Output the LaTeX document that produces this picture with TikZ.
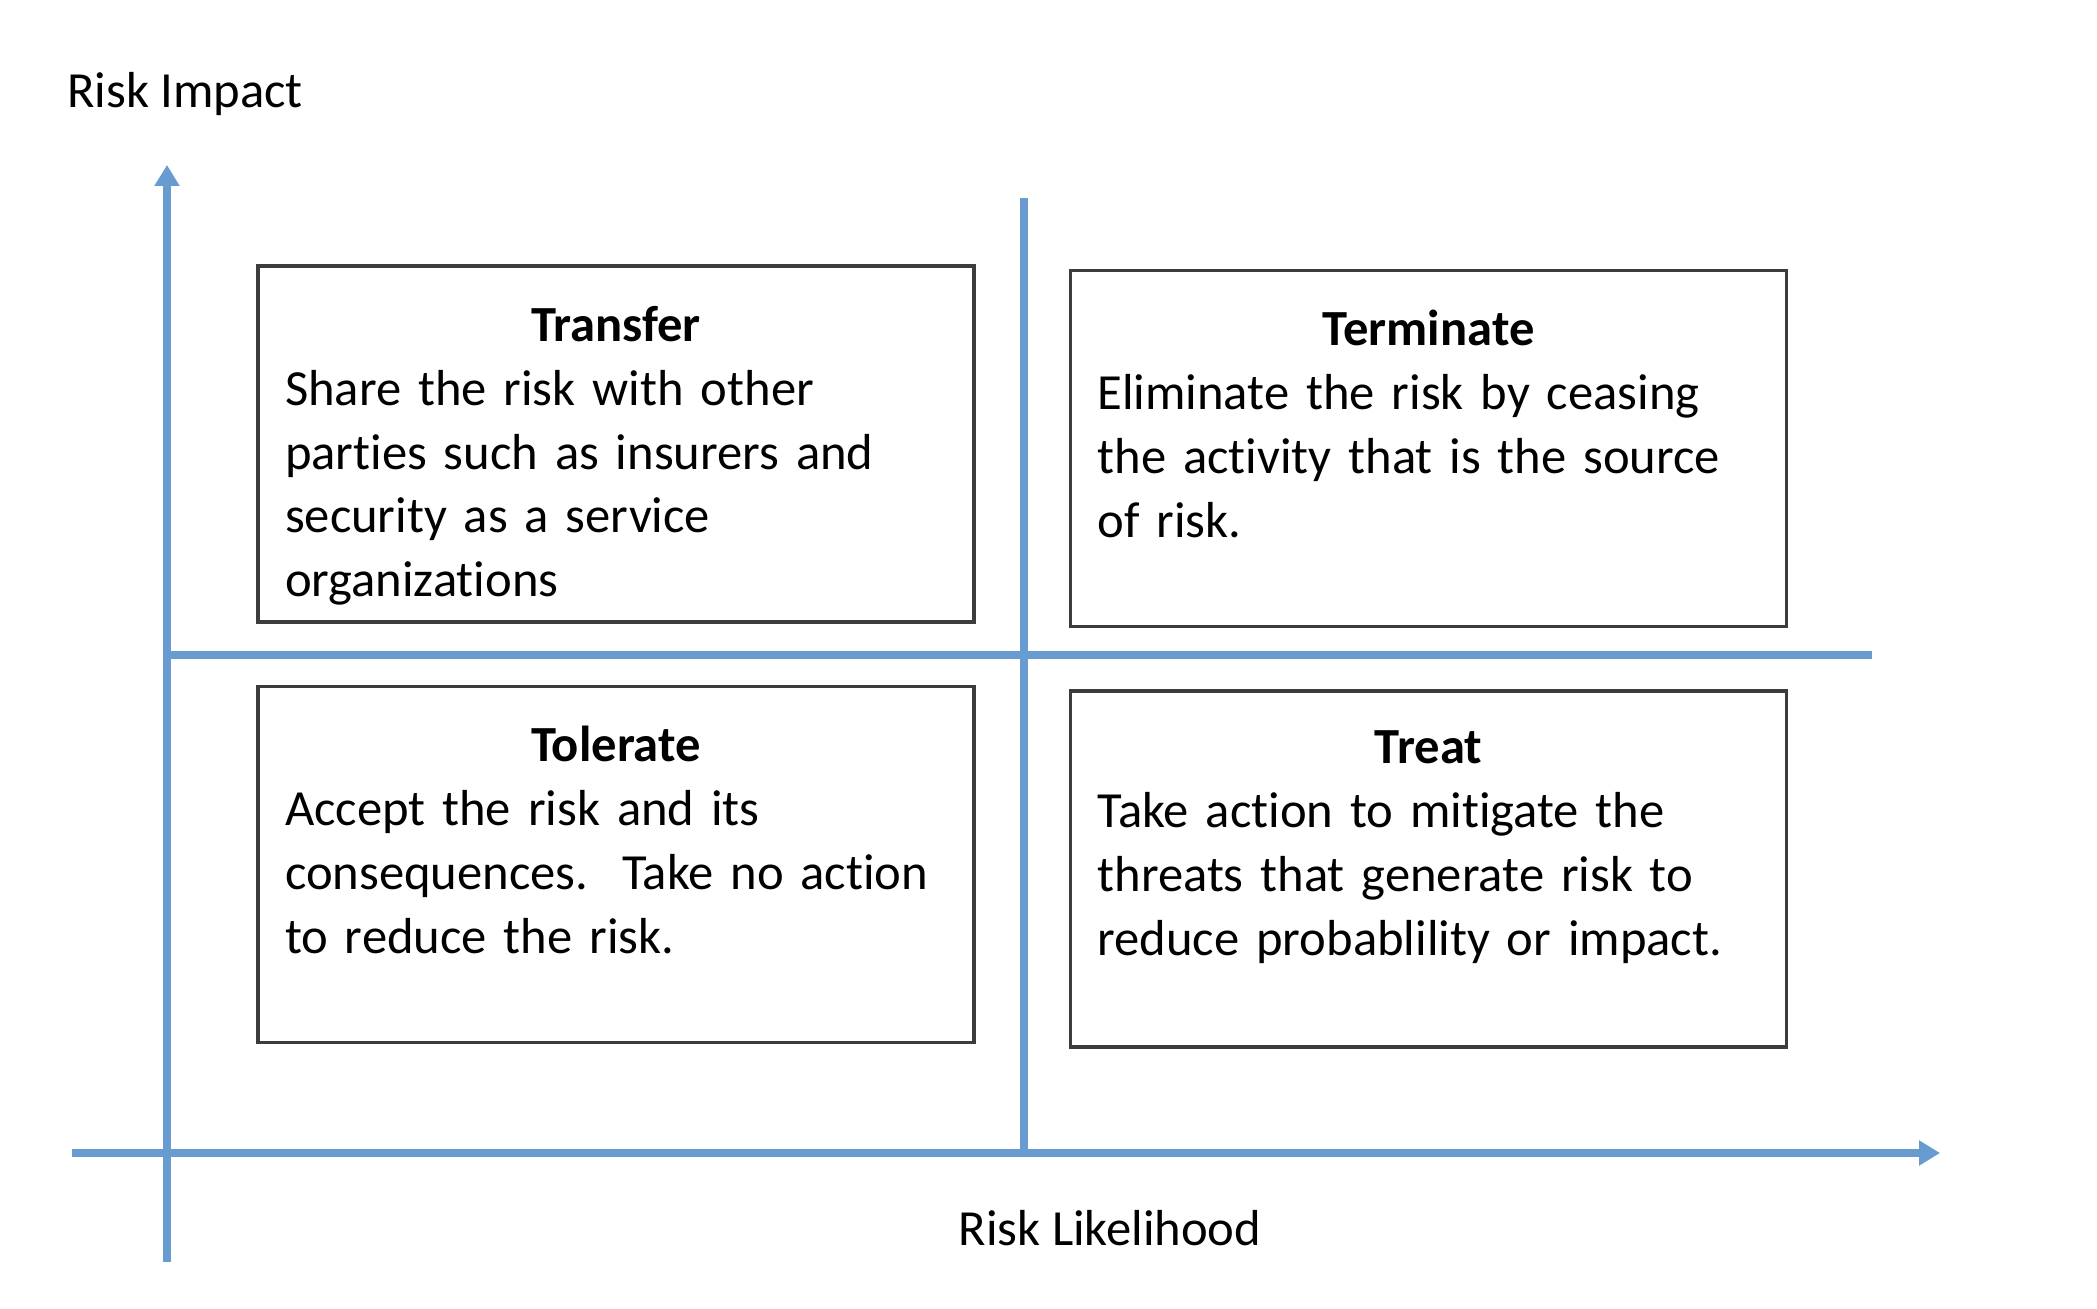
\documentclass[tikz,border=0pt]{standalone}
\usepackage{fontspec}
\setmainfont{Carlito}[Ligatures=NoCommon]
\usetikzlibrary{positioning, calc, arrows.meta}
\definecolor{assi}{RGB}{104,155,208}
\definecolor{bordo}{RGB}{60,60,60}
\newcommand{\testofont}{\fontsize{14.4}{18.2}\selectfont\hyphenpenalty=10000\relax}
\tikzset{
  asse/.style={line width=2.4pt, assi},
  freccia/.style={asse, -{Triangle[length=2.1mm,width=2.4mm]}},
  riquadro/.style={draw=bordo, line width=1pt, minimum width=7.16cm, minimum height=3.56cm, inner sep=0pt},
  testo/.style={anchor=north, inner sep=0pt, text width=6.62cm, align=left, font=\testofont, yshift=-0.41cm},
  etichetta/.style={font=\testofont, inner sep=0pt}
}
\newcommand{\titolo}[1]{\makebox[\linewidth][c]{\textbf{#1}}}

\begin{document}
\begin{tikzpicture}
        \useasboundingbox (0,0) rectangle (20.97,13.08);
        %estremi degli assi
        \coordinate (ybasso) at (1.67,0.46);
        \coordinate (yalto) at (1.67,11.43);
        \coordinate (xsin) at (0.72,1.55);
        \coordinate (xdes) at (19.40,1.55);
        \coordinate (mezzoalto) at (10.24,11.10);
        \coordinate (mezzobasso) at (10.24,1.55);
        \coordinate (mezzosin) at (1.67,6.53);
        \coordinate (mezzodes) at (18.72,6.53);
        %disegno assi
        \draw[freccia] (ybasso) -- (yalto);
        \draw[freccia] (xsin) -- (xdes);
        %disegno linee di separazione
        \draw[asse] (mezzobasso) -- (mezzoalto);
        \draw[asse] (mezzosin) -- (mezzodes);
        %etichette degli assi
        \node[etichetta] (impatto) at (1.85,12.14) {Risk Impact};
        \node[etichetta] (probabilita) at (11.10,0.80) {Risk Likelihood};
        %riquadri
        \node[riquadro] (transfer) at (6.16,8.64) {};
        \node[riquadro] (terminate) at (14.285,8.595) {};
        \node[riquadro] (tolerate) at (6.16,4.435) {};
        \node[riquadro] (treat) at (14.285,4.39) {};
        %testi dei riquadri
        \node[testo] (transfer-testo) at (transfer.north) {\titolo{Transfer}\\
            Share the risk with other\\ parties such as insurers and\\ security as a service\\ organizations};
        \node[testo] (terminate-testo) at (terminate.north) {\titolo{Terminate}\\
            Eliminate the risk by ceasing\\ the activity that is the source\\ of risk.};
        \node[testo] (tolerate-testo) at (tolerate.north) {\titolo{Tolerate}\\
            Accept the risk and its\\ consequences.\ \ Take no action\\ to reduce the risk.};
        \node[testo] (treat-testo) at (treat.north) {\titolo{Treat}\\
            Take action to mitigate the\\ threats that generate risk to\\ reduce probablility or impact.};
    \end{tikzpicture}
\end{document}
